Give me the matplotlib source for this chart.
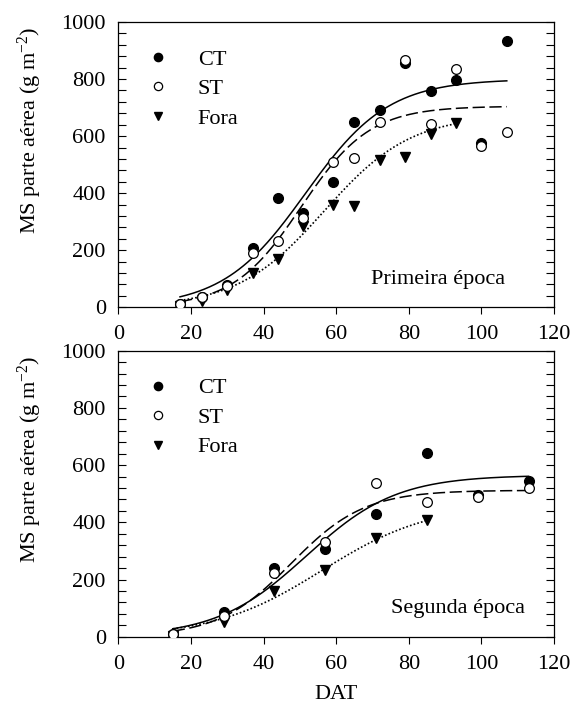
import numpy as np
import matplotlib
matplotlib.use("Agg")
import matplotlib.pyplot as plt

plt.rcParams['font.family'] = ['Liberation Serif', 'DejaVu Serif']
plt.rcParams['mathtext.fontset'] = 'custom'
plt.rcParams['mathtext.rm'] = 'Liberation Serif'
plt.rcParams['mathtext.it'] = 'Liberation Serif:italic'
FS = 16

# ---------------- data: Primeira época ----------------
p1_ct_x = [17, 23, 30, 37, 44, 51, 59, 65, 72, 79, 86, 93, 100, 107]
p1_ct_y = [12, 35, 78, 207, 384, 329, 439, 650, 691, 856, 757, 796, 575, 933]
p1_st_x = [17, 23, 30, 37, 44, 51, 59, 65, 72, 79, 86, 93, 100, 107]
p1_st_y = [12, 37, 75, 189, 232, 312, 508, 522, 648, 868, 641, 837, 566, 613]
p1_fo_x = [17, 23, 30, 37, 44, 51, 59, 65, 72, 79, 86, 93]
p1_fo_y = [5, 22, 61, 119, 168, 286, 358, 355, 516, 527, 606, 646]

# ---------------- data: Segunda época ----------------
p2_ct_x = [15, 29, 43, 57, 71, 85, 99, 113]
p2_ct_y = [9, 87, 241, 307, 428, 641, 494, 545]
p2_st_x = [15, 29, 43, 57, 71, 85, 99, 113]
p2_st_y = [9, 72, 221, 332, 536, 472, 488, 521]
p2_fo_x = [15, 29, 43, 57, 71, 85]
p2_fo_y = [2, 52, 161, 233, 344, 408]

# fitted logistic curves: (asymptote, midpoint, scale, x_start, x_end)
p1_ct_fit = [800, 51.6, 11.4, 17, 107]
p1_st_fit = [705, 50.4, 9.45, 17, 107]
p1_fo_fit = [675, 56.7, 12.0, 17, 93]
p2_ct_fit = [565, 51.8, 12.4, 15, 113]
p2_st_fit = [512, 47.6, 10.1, 15, 113]
p2_fo_fit = [465, 56.2, 14.9, 15, 85]

labels = ['CT', 'ST', 'Fora']
panel_titles = ['Primeira época', 'Segunda época']
x_ticks = [0, 20, 40, 60, 80, 100, 120]
y_ticks = [0, 200, 400, 600, 800, 1000]
ylab = r'MS parte aérea (g m$^{-2}$)'
xlab = 'DAT'


def logistic_curve(ax, fit, **kw):
    a, x0, b, xs, xe = fit
    xx = np.linspace(xs, xe, 300)
    ax.plot(xx, a / (1 + np.exp(-(xx - x0) / b)), **kw)


fig = plt.figure(figsize=(5.72, 7.04), dpi=100)
ax1 = fig.add_axes([0.2068, 0.5635, 0.7617, 0.4052])
ax2 = fig.add_axes([0.2068, 0.0956, 0.7617, 0.4062])

panels = [
    (ax1, (p1_ct_x, p1_ct_y), (p1_st_x, p1_st_y), (p1_fo_x, p1_fo_y),
     (p1_ct_fit, p1_st_fit, p1_fo_fit), panel_titles[0], (106.5, 99)),
    (ax2, (p2_ct_x, p2_ct_y), (p2_st_x, p2_st_y), (p2_fo_x, p2_fo_y),
     (p2_ct_fit, p2_st_fit, p2_fo_fit), panel_titles[1], (112, 97)),
]

for ax, ct, st, fo, fits, title, tpos in panels:
    logistic_curve(ax, fits[0], color='black', lw=1.1, ls='-', zorder=2)
    logistic_curve(ax, fits[1], color='black', lw=1.1, ls=(0, (8, 3)), zorder=2)
    logistic_curve(ax, fits[2], color='black', lw=1.2, ls=(0, (1, 1.3)), zorder=2)
    ax.plot(ct[0], ct[1], 'o', ms=7, mfc='black', mec='black', ls='none',
            label=labels[0], zorder=3)
    ax.plot(st[0], st[1], 'o', ms=7, mfc='white', mec='black', mew=0.9,
            ls='none', label=labels[1], zorder=4)
    ax.plot(fo[0], fo[1], 'v', ms=7.5, mfc='black', mec='black', ls='none',
            label=labels[2], zorder=3)
    ax.set_xlim(0, 120)
    ax.set_ylim(0, 1000)
    ax.set_xticks(x_ticks)
    ax.set_yticks(y_ticks)
    ax.set_yticks(np.arange(0, 1001, 40), minor=True)
    ax.tick_params(axis='x', direction='out', length=5, width=0.8,
                   labelsize=FS, pad=8)
    ax.tick_params(axis='y', which='both', direction='in', right=True,
                   left=True, labelsize=FS, width=0.8, pad=9)
    ax.tick_params(axis='y', which='major', length=6)
    ax.tick_params(axis='y', which='minor', length=6)
    for s in ax.spines.values():
        s.set_linewidth(0.9)
    ax.text(tpos[0], tpos[1], title, ha='right', va='center', fontsize=FS)
    ax.set_ylabel(ylab, fontsize=FS)
    ax.yaxis.set_label_coords(-0.17, 0.62)
    leg = ax.legend(loc='upper left', bbox_to_anchor=(0.065, 0.905),
                    frameon=False, fontsize=FS, handlelength=1.0,
                    handletextpad=1.3, labelspacing=0.4, borderpad=0,
                    borderaxespad=0, markerscale=0.85)

ax2.set_xlabel(xlab, fontsize=FS, labelpad=8)

fig.savefig('out.png', dpi=100)
